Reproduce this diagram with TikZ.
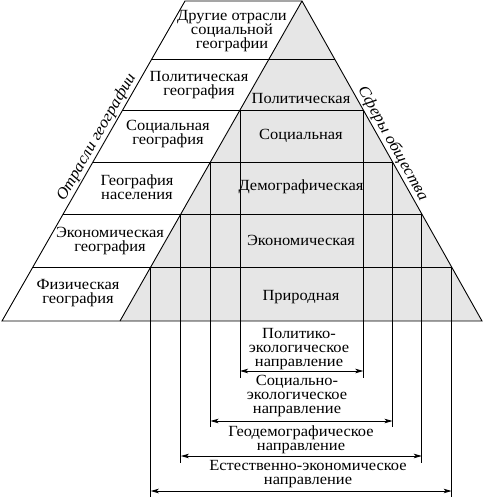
\documentclass[tikz,border=0pt]{standalone}
\usepackage{fontspec}
\setmainfont[FakeStretch=1.06]{Liberation Serif}
\usetikzlibrary{calc,arrows.meta}
\definecolor{greyfill}{RGB}{230,230,230}
\tikzset{
  edge/.style={line width=0.9pt, black},
  lbl/.style={align=center, inner sep=0pt, font=\fontsize{15.5}{14}\selectfont},
  side/.style={inner sep=1.5pt, font=\fontsize{16}{16}\selectfont\itshape},
  dim/.style={line width=0.9pt, {Stealth[length=8pt,width=4.5pt,inset=2pt]}-{Stealth[length=8pt,width=4.5pt,inset=2pt]}}
}
\begin{document}
\begin{tikzpicture}[x=1pt,y=-1pt]
\useasboundingbox (0,0) rectangle (483,497);
% main points
\coordinate (TL) at (185,1);
\coordinate (A) at (302,1);
\coordinate (BL) at (2,321);
\coordinate (BG) at (120,321);
\coordinate (BR) at (482,321);
% grey triangle
\fill[greyfill] (A) -- (BR) -- (BG) -- cycle;
% level points: W = white left edge, G = grey left edge, R = right edge
\foreach \i/\t in {1/0.18125,2/0.340625,3/0.503,4/0.6656,5/0.83125}{
  \coordinate (W\i) at ($(TL)!\t!(BL)$);
  \coordinate (G\i) at ($(A)!\t!(BG)$);
  \coordinate (R\i) at ($(A)!\t!(BR)$);
}
% outline
\draw[edge] (TL) -- (A) -- (BR) -- (BL) -- cycle;
\draw[edge] (A) -- (BG);
\foreach \i in {1,...,5}{\draw[edge] (W\i) -- (R\i);}
% vertical lines
\draw[edge] (G2) -- (G2 |- 0,378);
\draw[edge] (R2) -- (R2 |- 0,378);
\draw[edge] (G3) -- (G3 |- 0,427);
\draw[edge] (R3) -- (R3 |- 0,427);
\draw[edge] (G4) -- (G4 |- 0,463);
\draw[edge] (R4) -- (R4 |- 0,463);
\draw[edge] (G5) -- (G5 |- 0,497);
\draw[edge] (R5) -- (R5 |- 0,497);
% arrows
\draw[dim] (G2 |- 0,371) -- (R2 |- 0,371);
\draw[dim] (G3 |- 0,421) -- (R3 |- 0,421);
\draw[dim] (G4 |- 0,456) -- (R4 |- 0,456);
\draw[dim] (G5 |- 0,491) -- (R5 |- 0,491);
% left texts
\node[lbl] (t1) at (232,31) {Другие отрасли\\социальной\\географии};
\node[lbl] (t2) at (199,85) {Политическая\\география};
\node[lbl] (t3) at (168,134) {Социальная\\география};
\node[lbl] (t4) at (137,187) {География\\населения};
\node[lbl] (t5) at (110,241) {Экономическая\\география};
\node[lbl] (t6) at (78,293) {Физическая\\география};
% grey texts
\node[lbl] (s1) at (301,99) {Политическая};
\node[lbl] (s2) at (301,136) {Социальная};
\node[lbl] (s3) at (301,187) {Демографическая};
\node[lbl] (s4) at (301,240) {Экономическая};
\node[lbl] (s5) at (301,297) {Природная};
% bottom texts
\node[lbl] (d1) at (299,349) {Политико-\\экологическое\\направление};
\node[lbl] (d2) at (297,396) {Социально-\\экологическое\\направление};
\node[lbl] (d3) at (301,440) {Геодемографическое\\направление};
\node[lbl] (d4) at (308,474) {Естественно-экономическое\\направление};
% side labels
\path (BL) -- (TL) node[pos=0.56, sloped, above, side] (sl) {Отрасли географии};
\path (A) -- (BR) node[pos=0.46, sloped, above, side] (sr) {Сферы общества};
\end{tikzpicture}
\end{document}
